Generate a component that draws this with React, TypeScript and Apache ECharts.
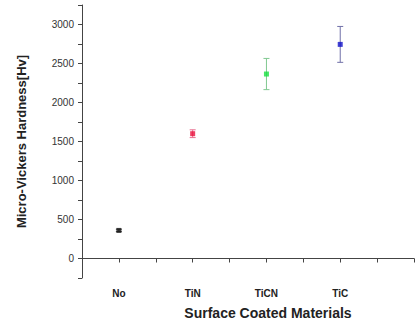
import React, { useEffect, useRef } from "react";
import * as echarts from "echarts";

const categories = ["No", "TiN", "TiCN", "TiC"];
const positions = [1, 2, 3, 4];
const hardness = [360, 1600, 2365, 2745];
const errors = [15, 50, 200, 230];
const pointColors = ["#111111", "#e8103c", "#18e040", "#1010c8"];
const barColors = ["#555555", "#e87090", "#80c890", "#7070a8"];

export default function App() {
  const ref = useRef<HTMLDivElement>(null);
  useEffect(() => {
    document.body.style.margin = "0";
    if (!ref.current) return;
    const chart = echarts.init(ref.current, undefined, { renderer: "svg" });
    const axisColor = "#444";
    chart.setOption({
      animation: false,
      backgroundColor: "#ffffff",
      grid: { left: 82, right: 2, top: 5, bottom: 47 },
      xAxis: {
        type: "value",
        min: 0.5,
        max: 5,
        interval: 0.5,
        name: "Surface Coated Materials",
        nameLocation: "middle",
        nameGap: 28,
        nameTextStyle: {
          fontFamily: "Liberation Sans, Arial",
          fontWeight: "bold",
          fontSize: 14,
          color: "#222",
          padding: [0, 0, 0, 40],
        },
        axisLine: { show: true, lineStyle: { color: axisColor, width: 1 } },
        axisTick: { show: true, length: 4, lineStyle: { color: axisColor } },
        splitLine: { show: false },
        axisLabel: {
          fontFamily: "Liberation Sans, Arial",
          fontWeight: "bold",
          fontSize: 10,
          color: "#222",
          margin: 10,
          formatter: (v: number) => {
            const i = positions.indexOf(v);
            return i >= 0 ? categories[i] : "";
          },
        },
      },
      yAxis: {
        type: "value",
        min: -250,
        max: 3250,
        interval: 250,
        name: "Micro-Vickers Hardness[Hv]",
        nameLocation: "middle",
        nameGap: 54,
        nameTextStyle: {
          fontFamily: "Liberation Sans, Arial",
          fontWeight: "bold",
          fontSize: 13,
          color: "#222",
        },
        axisLine: { show: true, lineStyle: { color: axisColor, width: 1 } },
        axisTick: { show: true, length: 4, lineStyle: { color: axisColor } },
        splitLine: { show: false },
        axisLabel: {
          fontFamily: "Liberation Sans, Arial",
          fontSize: 10,
          color: "#333",
          margin: 8,
          formatter: (v: number) => (v % 500 === 0 ? String(v) : ""),
        },
      },
      series: [
        {
          type: "custom",
          data: positions.map((p, i) => [p, hardness[i], errors[i], i]),
          renderItem: (params: any, api: any) => {
            const x = api.value(0);
            const y = api.value(1);
            const e = api.value(2);
            const idx = api.value(3);
            const top = api.coord([x, y + e]);
            const bot = api.coord([x, y - e]);
            const c = barColors[idx];
            const w = 3;
            return {
              type: "group",
              children: [
                { type: "line", shape: { x1: top[0], y1: top[1], x2: bot[0], y2: bot[1] }, style: { stroke: c, lineWidth: 1 } },
                { type: "line", shape: { x1: top[0] - w, y1: top[1], x2: top[0] + w, y2: top[1] }, style: { stroke: c, lineWidth: 1 } },
                { type: "line", shape: { x1: bot[0] - w, y1: bot[1], x2: bot[0] + w, y2: bot[1] }, style: { stroke: c, lineWidth: 1 } },
              ],
            };
          },
          z: 1,
        },
        {
          type: "scatter",
          symbol: "rect",
          symbolSize: 5,
          data: positions.map((p, i) => ({
            value: [p, hardness[i]],
            itemStyle: { color: pointColors[i] },
          })),
          z: 2,
        },
      ],
    });
    return () => chart.dispose();
  }, []);
  return <div ref={ref} style={{ width: 417, height: 325 }} />;
}
